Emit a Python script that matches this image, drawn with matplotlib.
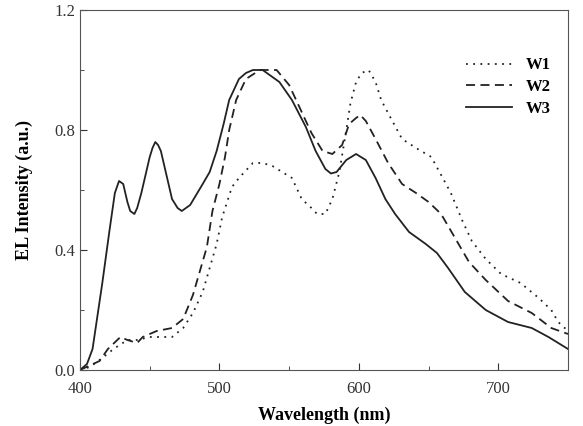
import matplotlib
matplotlib.use("Agg")
import matplotlib.pyplot as plt
from matplotlib.ticker import MultipleLocator

plt.rcParams["font.family"] = ["Liberation Serif", "DejaVu Serif"]

# W1 (dotted)
w1_x = [400, 407, 416, 424, 434, 441, 450, 459, 466, 474, 481, 488, 493, 498, 502, 509,
        514, 524, 531, 538, 545, 552, 559, 566, 570, 576, 581, 586, 591, 594, 598, 602,
        607, 612, 616, 624, 631, 641, 652, 659, 666, 674, 681, 691, 702, 716, 729, 738,
        743, 750]
w1_y = [0.0, 0.01, 0.04, 0.07, 0.10, 0.10, 0.11, 0.11, 0.11, 0.14, 0.19, 0.26, 0.34, 0.42,
        0.51, 0.61, 0.64, 0.69, 0.69, 0.68, 0.66, 0.64, 0.57, 0.54, 0.52, 0.52, 0.57, 0.66,
        0.80, 0.89, 0.96, 0.99, 1.0, 0.96, 0.90, 0.83, 0.77, 0.74, 0.71, 0.65, 0.59, 0.50,
        0.43, 0.37, 0.32, 0.29, 0.24, 0.20, 0.16, 0.13]

# W2 (dashed)
w2_x = [400, 414, 420, 429, 434, 441, 445, 455, 466, 474, 481, 486, 491, 495, 500, 504,
        507, 512, 519, 529, 541, 550, 559, 566, 574, 581, 588, 593, 598, 601, 605, 612,
        621, 631, 641, 650, 659, 669, 679, 691, 707, 724, 738, 750]
w2_y = [0.0, 0.03, 0.07, 0.11, 0.10, 0.09, 0.11, 0.13, 0.14, 0.17, 0.25, 0.33, 0.41, 0.53,
        0.62, 0.71, 0.80, 0.90, 0.97, 1.0, 1.0, 0.95, 0.86, 0.79, 0.73, 0.72, 0.75, 0.82,
        0.84, 0.85, 0.83, 0.77, 0.69, 0.62, 0.59, 0.56, 0.52, 0.44, 0.36, 0.30, 0.23, 0.19,
        0.14, 0.12]

# W3 (solid)
w3_x = [400, 405, 409, 416, 421, 425, 428, 431, 434, 436, 439, 441, 444, 447, 450, 452,
        454, 456, 458, 462, 466, 470, 473, 479, 488, 493, 498, 503, 507, 514, 519, 524,
        531, 537, 543, 552, 562, 569, 576, 580, 584, 591, 598, 605, 612, 619, 626, 636,
        648, 656, 664, 676, 691, 707, 724, 736, 750]
w3_y = [0.0, 0.02, 0.07, 0.29, 0.46, 0.59, 0.63, 0.62, 0.56, 0.53, 0.52, 0.54, 0.59, 0.65,
        0.71, 0.74, 0.76, 0.75, 0.73, 0.65, 0.57, 0.54, 0.53, 0.55, 0.62, 0.66, 0.73, 0.82,
        0.90, 0.97, 0.99, 1.0, 1.0, 0.98, 0.96, 0.90, 0.81, 0.73, 0.67, 0.655, 0.66, 0.70,
        0.72, 0.70, 0.64, 0.57, 0.52, 0.46, 0.42, 0.39, 0.34, 0.26, 0.20, 0.16, 0.14, 0.11,
        0.07]

fig = plt.figure(figsize=(5.83, 4.26), dpi=100)
ax = fig.add_axes([80 / 583, 56 / 426, 488 / 583, 360 / 426])

col = "#222222"
ax.plot(w1_x, w1_y, ls=(0, (1, 3)), color=col, lw=1.3, label="W1")
ax.plot(w2_x, w2_y, ls=(0, (5, 3)), color=col, lw=1.3, label="W2")
ax.plot(w3_x, w3_y, ls="-", color=col, lw=1.3, label="W3")

ax.set_xlim(400, 750)
ax.set_ylim(0, 1.2)
ax.xaxis.set_major_locator(MultipleLocator(100))
ax.xaxis.set_minor_locator(MultipleLocator(50))
ax.yaxis.set_major_locator(MultipleLocator(0.4))
ax.yaxis.set_minor_locator(MultipleLocator(0.2))
ax.tick_params(which="both", direction="in", labelsize=12, colors="#333333")
ax.tick_params(which="major", length=5)
ax.tick_params(which="minor", length=3)
ax.tick_params(axis="x", pad=8)
ax.set_yticklabels(["%.1f" % v for v in ax.get_yticks()])
for s in ax.spines.values():
    s.set_color("#555555")

ax.set_xlabel("Wavelength (nm)", fontsize=13, fontweight="bold", labelpad=7)
ax.set_ylabel("EL Intensity (a.u.)", fontsize=13, fontweight="bold", labelpad=15)

leg = ax.legend(loc="upper right", bbox_to_anchor=(0.995, 0.91), frameon=False,
                prop={"weight": "bold", "size": 12}, handlelength=2.8,
                labelspacing=0.35)

fig.savefig("out.png", dpi=100)
